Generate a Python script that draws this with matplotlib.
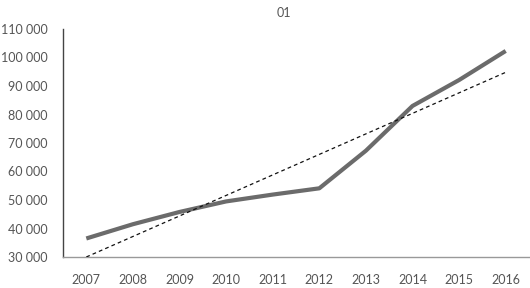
import matplotlib
matplotlib.use("Agg")
import matplotlib.pyplot as plt
import numpy as np
from matplotlib.ticker import FuncFormatter

years = ["2007", "2008", "2009", "2010", "2011", "2012", "2013", "2014", "2015", "2016"]
values = [36500, 41500, 45800, 49500, 51900, 54100, 67300, 83000, 92100, 102300]
title = "01"

plt.rcParams['font.family'] = ['Lato', 'DejaVu Sans']
txt = "#555555"

fig = plt.figure(figsize=(5.3, 2.88), dpi=100)
ax = fig.add_axes([63/530, 1-257/288, 466/530, (257-29)/288])

x = np.arange(len(years))
ax.plot(x, values, color="#6b6b6b", lw=3.0, solid_joinstyle="round", solid_capstyle="butt", zorder=3)
coef = np.polyfit(x, values, 1)
ax.plot(x, np.polyval(coef, x), color="#111111", lw=0.9, linestyle=(0, (3, 2.5)), zorder=4)

ax.set_xlim(-0.5, len(years) - 0.5)
ax.set_ylim(30000, 110000)
ax.set_xticks(x)
ax.set_xticklabels(years)
ax.set_yticks(np.arange(30000, 110001, 10000))
ax.yaxis.set_major_formatter(FuncFormatter(lambda v, p: f"{int(v):,}".replace(",", " ")))
ax.tick_params(axis="both", length=0, labelsize=9, colors=txt)
ax.tick_params(axis="y", pad=11)
ax.tick_params(axis="x", pad=12)
for s in ["top", "right"]:
    ax.spines[s].set_visible(False)
ax.spines["left"].set_color("#444444")
ax.spines["left"].set_linewidth(1.0)
ax.spines["bottom"].set_color("#999999")
ax.spines["bottom"].set_linewidth(1.0)

fig.text(284/530, 1-13/288, title, ha="center", va="center", fontsize=9, color=txt)

fig.savefig("out.png", dpi=100, facecolor="white")
